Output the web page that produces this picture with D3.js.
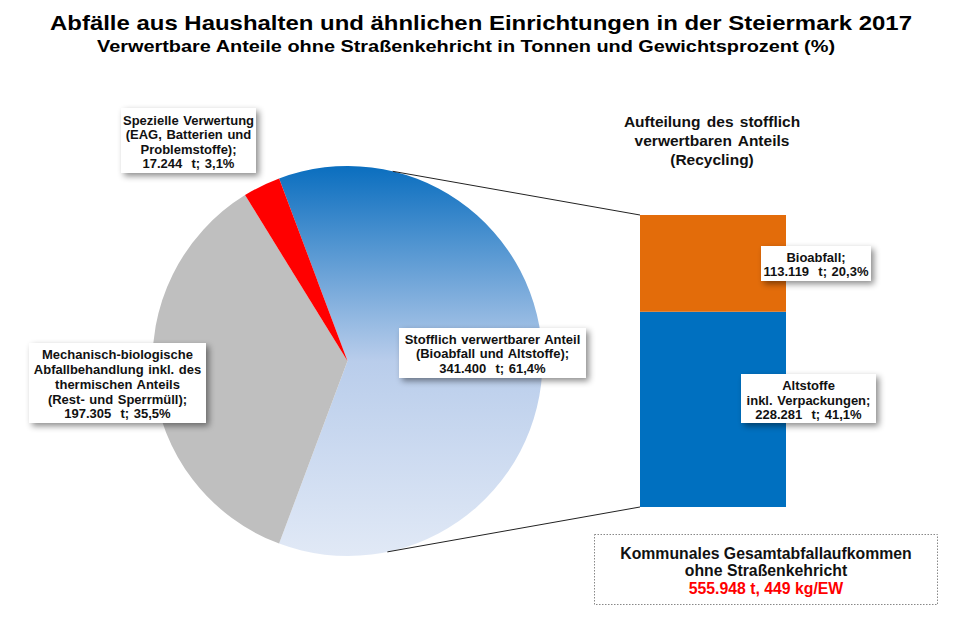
<!DOCTYPE html>
<html>
<head>
<meta charset="utf-8">
<script src="https://cdn.jsdelivr.net/npm/d3@7"></script>
<style>
  body { margin: 0; background: #fff; }
  text { font-family: "Liberation Sans", Arial, sans-serif; font-weight: bold; }
</style>
</head>
<body>
<svg id="chart" width="973" height="628"></svg>
<script>
// pie data (tonnes)
var pieNames = ["stofflich", "mba", "speziell"];
var pieValues = [341400, 197305, 17244];
var pieColors = ["url(#blueGrad)", "#bfbfbf", "#ff0000"];
var pieLabelLines = [
  ["Stofflich verwertbarer Anteil", "(Bioabfall und Altstoffe);"],
  ["Mechanisch-biologische", "Abfallbehandlung inkl. des", "thermischen Anteils", "(Rest- und Sperrmüll);"],
  ["Spezielle Verwertung", "(EAG, Batterien und", "Problemstoffe);"]
];

// bar (recycling split), bottom to top
var barNames = ["Altstoffe", "Bioabfall"];
var barValues = [228281, 113119];
var barColors = ["#0070c0", "#e36c0a"];
var barLabelLines = [
  ["Altstoffe", "inkl. Verpackungen;"],
  ["Bioabfall;"]
];

var totalTonnes = 555948;
var perCapita = 449;

var de = d3.formatLocale({ decimal: ",", thousands: ".", grouping: [3], currency: ["", " €"] });
var fmtT = de.format(",.0f"), fmtP = de.format(".1f");
function valueLine(v) { return fmtT(v) + "  t; " + fmtP(v / totalTonnes * 100) + "%"; }

var svg = d3.select("#chart");
var defs = svg.append("defs");

var grad = defs.append("linearGradient").attr("id", "blueGrad")
  .attr("gradientUnits", "userSpaceOnUse")
  .attr("x1", 0).attr("y1", 166).attr("x2", 0).attr("y2", 556);
grad.append("stop").attr("offset", "0").attr("stop-color", "#0a6ebf");
grad.append("stop").attr("offset", "0.5").attr("stop-color", "#b9cdeb");
grad.append("stop").attr("offset", "1").attr("stop-color", "#e1e9f6");

var shadow = defs.append("filter").attr("id", "shadow")
  .attr("x", "-20%").attr("y", "-30%").attr("width", "150%").attr("height", "180%");
shadow.append("feDropShadow").attr("dx", 3).attr("dy", 3).attr("stdDeviation", 3)
  .attr("flood-color", "#000").attr("flood-opacity", 0.45);

// titles
svg.append("text").attr("x", 481).attr("y", 30).attr("text-anchor", "middle")
  .style("font-size", "21px").attr("textLength", 862).attr("lengthAdjust", "spacingAndGlyphs")
  .text("Abfälle aus Haushalten und ähnlichen Einrichtungen in der Steiermark 2017");
svg.append("text").attr("x", 466).attr("y", 52).attr("text-anchor", "middle")
  .style("font-size", "16px").attr("textLength", 738).attr("lengthAdjust", "spacingAndGlyphs")
  .text("Verwertbare Anteile ohne Straßenkehricht in Tonnen und Gewichtsprozent (%)");

// pie
var cx = 347.5, cy = 361, r = 195;
var blueAngle = pieValues[0] / d3.sum(pieValues) * 2 * Math.PI;
var start = Math.PI / 2 - blueAngle / 2;
var pie = d3.pie().sort(null).startAngle(start).endAngle(start + 2 * Math.PI);
var arc = d3.arc().innerRadius(0).outerRadius(r);
var arcs = pie(pieValues);

var gPie = svg.append("g").attr("transform", "translate(" + cx + "," + cy + ")");
gPie.selectAll("path").data(arcs).enter().append("path")
  .attr("d", arc)
  .attr("fill", function (d, i) { return pieColors[i]; });
// gradient is in page coords, so re-point it for the translated group
grad.attr("gradientTransform", "translate(0," + (-cy) + ")");

// connector lines pie -> bar
var y = d3.scaleLinear().domain([0, d3.sum(barValues)]).range([507, 215]);
var barX = 640, barW = 146;
var aTop = 13.4 * Math.PI / 180, aBot = Math.PI - 11.8 * Math.PI / 180;
svg.append("line")
  .attr("x1", cx + r * Math.sin(aTop)).attr("y1", cy - r * Math.cos(aTop))
  .attr("x2", barX).attr("y2", y(d3.sum(barValues)))
  .attr("stroke", "#222").attr("stroke-width", 1);
svg.append("line")
  .attr("x1", cx + r * Math.sin(aBot)).attr("y1", cy - r * Math.cos(aBot))
  .attr("x2", barX).attr("y2", y(0))
  .attr("stroke", "#222").attr("stroke-width", 1);

// stacked bar
var stacked = d3.cumsum(barValues);
svg.append("g").selectAll("rect").data(barValues).enter().append("rect")
  .attr("x", barX).attr("width", barW)
  .attr("y", function (d, i) { return y(stacked[i]); })
  .attr("height", function (d) { return y(0) - y(d); })
  .attr("fill", function (d, i) { return barColors[i]; });

// label boxes
function labelBox(box, lines, lineY, size) {
  var g = svg.append("g");
  g.append("rect").attr("x", box[0]).attr("y", box[1])
    .attr("width", box[2] - box[0]).attr("height", box[3] - box[1])
    .attr("fill", "#fff").attr("filter", "url(#shadow)");
  var mid = (box[0] + box[2]) / 2;
  lines.forEach(function (t, i) {
    g.append("text").attr("x", mid).attr("y", lineY[i]).attr("dy", "0.35em")
      .attr("text-anchor", "middle").style("font-size", size + "px")
      .style("word-spacing", "1px").style("white-space", "pre").attr("fill", "#111")
      .text(t);
  });
}

labelBox([399, 328, 586, 378], pieLabelLines[0].concat([valueLine(pieValues[0])]), [339, 353.5, 368], 13);
labelBox([29, 343, 206, 423], pieLabelLines[1].concat([valueLine(pieValues[1])]), [354, 369, 384, 399, 413], 13);
labelBox([121, 108, 256, 173], pieLabelLines[2].concat([valueLine(pieValues[2])]), [120, 134.5, 149, 163.5], 13);
labelBox([761, 246, 871, 281], barLabelLines[1].concat([valueLine(barValues[1])]), [257, 271], 13);
labelBox([741, 374, 876, 423], barLabelLines[0].concat([valueLine(barValues[0])]), [385, 400, 414], 13);

// bar title
["Aufteilung des stofflich", "verwertbaren Anteils", "(Recycling)"].forEach(function (t, i) {
  svg.append("text").attr("x", 712).attr("y", 122 + i * 19).attr("dy", "0.35em")
    .attr("text-anchor", "middle").style("font-size", "15.5px").style("word-spacing", "2px")
    .attr("fill", "#111").text(t);
});

// total box
svg.append("rect").attr("x", 594.5).attr("y", 534.5).attr("width", 343).attr("height", 70)
  .attr("fill", "#fff").attr("stroke", "#888").attr("stroke-dasharray", "1.5,1.5");
var totalLines = ["Kommunales Gesamtabfallaufkommen", "ohne Straßenkehricht",
  fmtT(totalTonnes) + " t, " + perCapita + " kg/EW"];
totalLines.forEach(function (t, i) {
  svg.append("text").attr("x", 766).attr("y", 553 + i * 17.5).attr("dy", "0.35em")
    .attr("text-anchor", "middle").style("font-size", "15.8px")
    .attr("fill", i == 2 ? "#ff0000" : "#111").text(t);
});
</script>
</body>
</html>
